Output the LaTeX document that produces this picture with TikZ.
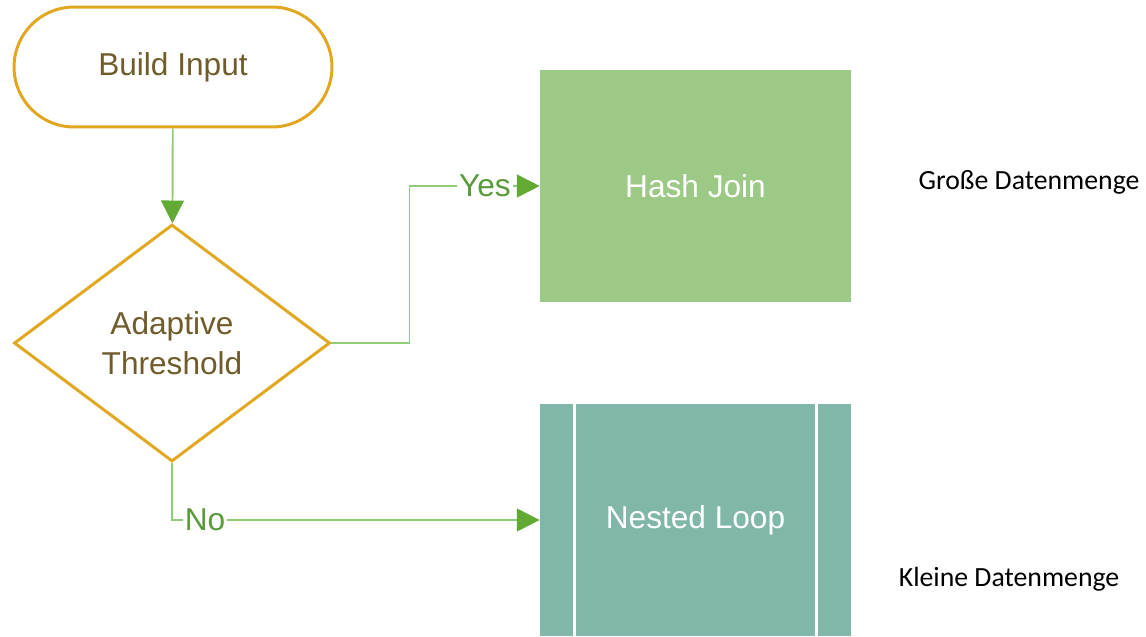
\documentclass[tikz,border=0pt]{standalone}
\usepackage{fontspec}
\setmainfont{Liberation Sans}
\newfontfamily\notefont{Carlito}
\usetikzlibrary{shapes.geometric,arrows.meta}

\definecolor{gold}{HTML}{E2A720}
\definecolor{brownText}{HTML}{705C2A}
\definecolor{flowGreen}{HTML}{92CB78}
\definecolor{tipGreen}{HTML}{62AA33}
\definecolor{labelGreen}{HTML}{5A9A3A}
\definecolor{hashFill}{HTML}{9DC986}
\definecolor{loopFill}{HTML}{80B7A9}

\tikzset{
  terminal/.style={draw=gold, line width=1.7pt, rounded corners=1.2cm,
    minimum width=6.36cm, minimum height=2.4cm, text=brownText,
    font=\fontsize{18}{22}\selectfont},
  decision/.style={draw=gold, line width=1.7pt, diamond, aspect=1.33,
    minimum width=6.32cm, minimum height=4.74cm, inner sep=0pt,
    align=center, text=brownText, font=\fontsize{18}{23}\selectfont},
  process/.style={fill=#1, minimum width=6.22cm, minimum height=4.64cm,
    text=white, font=\fontsize{18}{22}\selectfont},
  flow/.style={draw=flowGreen, line width=1.1pt,
    -{Triangle[length=13pt,width=13pt,fill=tipGreen,color=tipGreen]}},
  lbl/.style={fill=white, inner sep=1pt, text=labelGreen,
    font=\fontsize{18}{22}\selectfont},
  note/.style={font=\notefont\fontsize{15.8}{19}\selectfont}
}

\begin{document}
\begin{tikzpicture}[x=0.02cm,y=-0.02cm]
      \useasboundingbox (0,0) rectangle (1146,636);

      \node[terminal] at (173,67) (start) {Build Input};
      \node[decision] at (172,343) (thresh) {Adaptive\\Threshold};
      \node[process=hashFill] at (695.5,186) (hash) {Hash Join};
      \node[process=loopFill] at (695.5,520) (loop) {Nested Loop};
      % side bars of the predefined process
      \draw[white, line width=1.8pt] (loop.north west) ++(35,0) -- ++(0,232);
      \draw[white, line width=1.8pt] (loop.north east) ++(-35,0) -- ++(0,232);

      \node[note] at (1029,182) (big) {Große Datenmenge};
      \node[note] at (1009,579) (small) {Kleine Datenmenge};

      \draw[flow] (start) -- (thresh);
      \draw[flow] (thresh.east) -- ++(78,0) |- node[pos=0.79,lbl] {Yes} (hash.west);
      \draw[flow] (thresh.south) |- node[pos=0.545,lbl] {No} (loop.west);
    \end{tikzpicture}
\end{document}
